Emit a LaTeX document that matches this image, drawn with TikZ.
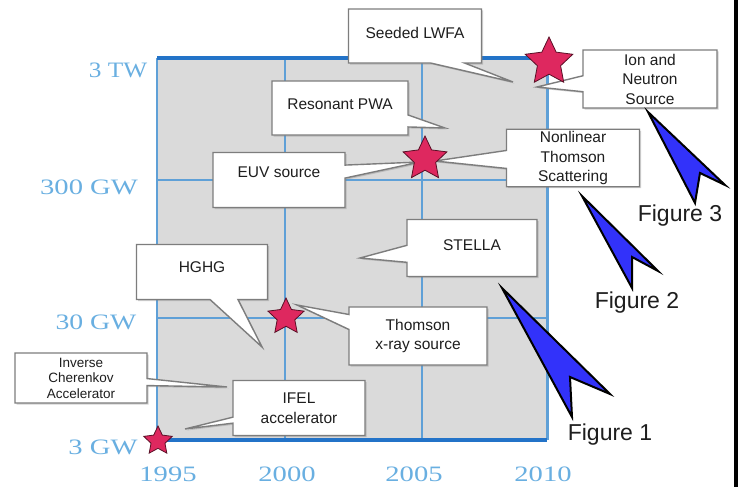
\documentclass[tikz,border=0pt]{standalone}
\usepackage{fontspec}
\setmainfont{Liberation Sans}
\newfontfamily\axisfont{Liberation Serif}
\usetikzlibrary{shapes.geometric,shapes.callouts,shadows}

\definecolor{gridblue}{RGB}{95,160,215}
\definecolor{frameblue}{RGB}{35,115,200}
\definecolor{axisblue}{RGB}{105,175,225}
\definecolor{panelgray}{RGB}{218,218,218}
\definecolor{boxgray}{RGB}{125,125,125}
\definecolor{starred}{RGB}{222,40,95}
\definecolor{arrowblue}{RGB}{50,50,250}
\definecolor{labeltext}{RGB}{30,30,30}

\begin{document}
\begin{tikzpicture}[x=1pt, y=-1pt,
  gridline/.style={gridblue, line width=2pt},
  callbox/.style={rectangle callout, fill=white, draw=boxgray, line width=1.4pt,
    align=center, inner sep=2pt, text=labeltext,
    font=\fontsize{15.5}{19.5}\selectfont,
    drop shadow={shadow xshift=1.5pt, shadow yshift=-1.5pt, opacity=.35}},
  smallbox/.style={callbox, font=\fontsize{13.5}{15.5}\selectfont},
  hitstar/.style={star, star points=5, star point ratio=2.05, fill=starred,
    draw=black!60!starred, line width=0.8pt, inner sep=0pt},
  powerlabel/.style={text=axisblue, font=\axisfont\fontsize{22}{22}\selectfont},
  bigarrow/.style={fill=arrowblue, draw=black, line width=2pt},
  figlabel/.style={text=labeltext, font=\fontsize{23}{23}\selectfont}
]
\useasboundingbox (0,0) rectangle (738,487);
\fill[white] (0,0) rectangle (738,487);
\fill[black] (734,0) rectangle (738,487);

% Grey panel and grid
\fill[panelgray] (157,58) rectangle (547,440);
\foreach \x in {285,422} {
    \draw[gridline] (\x,58) -- (\x,440);
}
\foreach \y in {180,318} {
    \draw[gridline] (157,\y) -- (547,\y);
}
\draw[gridline] (157,58) -- (157,440);
\draw[gridblue, line width=3pt] (547,58) -- (547,440);
\draw[frameblue, line width=4pt] (157,58) -- (547,58);
\draw[frameblue, line width=4pt] (157,440) -- (547,440);

% Axis labels
\node[powerlabel] (pTW) at (118,70) {\scalebox{1.15}[1]{3 TW}};
\node[powerlabel] (p300) at (89,187) {\scalebox{1.3}[1]{300 GW}};
\node[powerlabel] (p30) at (96,322) {\scalebox{1.26}[1]{30 GW}};
\node[powerlabel] (p3) at (103,447) {\scalebox{1.3}[1]{3 GW}};
\foreach \yr/\x in {1995/168, 2000/287, 2005/414, 2010/543} {
    \node[powerlabel] (yr\yr) at (\x,474) {\scalebox{1.3}[1]{\yr}};
}

% Pointer ends
\coordinate (pSeeded) at (513,82);
\coordinate (pIon) at (537,87);
\coordinate (pResonant) at (445,128);
\coordinate (pEUV) at (420,162);
\coordinate (pNonlin) at (435,161);
\coordinate (pStella) at (360,258);
\coordinate (pHGHG) at (262,347);
\coordinate (pThomson) at (297,305);
\coordinate (pCherenkov) at (227,387);
\coordinate (pIFEL) at (185,429);

% Callouts
\node[callbox, minimum width=133pt, minimum height=54pt, text depth=6pt,
  callout absolute pointer={(pSeeded)}, callout pointer width=34pt] (seeded) at (415,36) {Seeded LWFA};
\node[callbox, minimum width=136pt, minimum height=54pt, text depth=8pt,
  callout absolute pointer={(pResonant)}, callout pointer width=12pt] (resonant) at (340,108) {Resonant PWA};
\node[callbox, minimum width=132pt, minimum height=55pt, text depth=16pt,
  callout absolute pointer={(pEUV)}, callout pointer width=13pt] (euv) at (279,180) {EUV source};
\node[callbox, minimum width=134pt, minimum height=58pt,
  callout absolute pointer={(pIon)}, callout pointer width=16pt] (ion) at (650,79) {Ion and\\Neutron\\Source};
\node[callbox, minimum width=133pt, minimum height=57pt,
  callout absolute pointer={(pNonlin)}, callout pointer width=18pt] (nonlin) at (573,158) {Nonlinear\\Thomson\\Scattering};
\node[callbox, minimum width=130pt, minimum height=57pt, text depth=6pt,
  callout absolute pointer={(pStella)}, callout pointer width=17pt] (stella) at (472,248) {STELLA};
\node[callbox, minimum width=131pt, minimum height=55pt, text depth=10pt,
  callout absolute pointer={(pHGHG)}, callout pointer width=28pt] (hghg) at (202,272) {HGHG};
\node[callbox, minimum width=138pt, minimum height=58pt,
  callout absolute pointer={(pThomson)}, callout pointer width=15pt] (thomson) at (418,336) {Thomson\\x-ray source};
\node[smallbox, minimum width=132pt, minimum height=50pt,
  callout absolute pointer={(pCherenkov)}, callout pointer width=7pt] (cherenkov) at (81,378) {Inverse\\Cherenkov\\Accelerator};
\node[callbox, minimum width=132pt, minimum height=55pt,
  callout absolute pointer={(pIFEL)}, callout pointer width=6pt] (ifel) at (299,408) {IFEL\\accelerator};

% Stars
\node[hitstar, minimum size=50pt] (starA) at (549,62) {};
\node[hitstar, minimum size=46pt] (starB) at (425,159) {};
\node[hitstar, minimum size=38pt] (starC) at (286,317) {};
\node[hitstar, minimum size=30pt] (starD) at (158,441) {};

% Big blue arrows
\foreach \tx/\ty/\bx/\by/\nx/\ny/\ex/\ey in {502/288/610/394/570/377/572/417,
    582/196/658/271/632/257/632/288, 648/112/725/185/700/173/695/203} {
    \draw[bigarrow] (\tx,\ty) -- (\bx,\by) -- (\nx,\ny) -- (\ex,\ey) -- cycle;
}
\node[figlabel] (fig1) at (610,435) {Figure 1};
\node[figlabel] (fig2) at (637,303) {Figure 2};
\node[figlabel] (fig3) at (680,216) {Figure 3};
\end{tikzpicture}
\end{document}
